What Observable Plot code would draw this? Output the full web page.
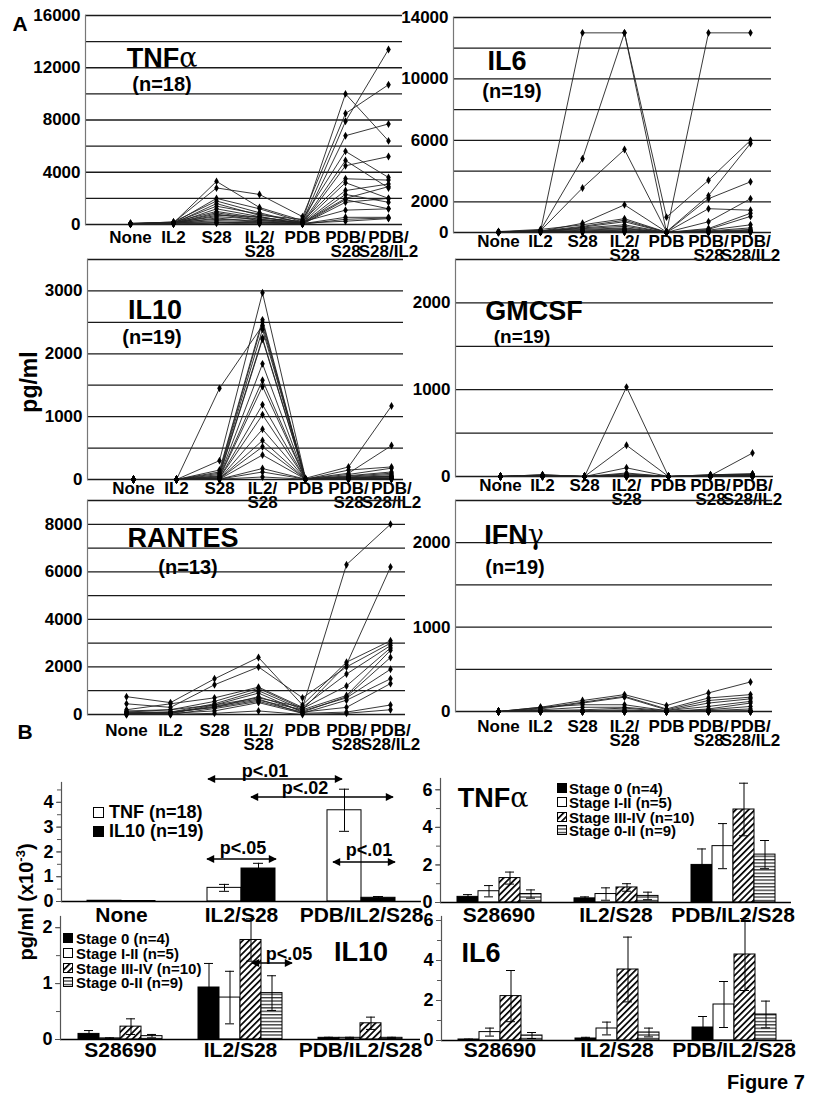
<!DOCTYPE html>
<html><head><meta charset="utf-8">
<script src="https://cdn.jsdelivr.net/npm/d3@7"></script>
<script src="https://cdn.jsdelivr.net/npm/@observablehq/plot@0.6"></script>
<style>
body{margin:0;background:#fff;}
#fig{position:relative;width:829px;height:1093px;overflow:hidden;font-family:"Liberation Sans",Arial,sans-serif;font-weight:bold;color:#000;background:#fff;}
.lbl{position:absolute;white-space:nowrap;line-height:1;transform:translate(-50%,-50%);}
.gr{font-family:"DejaVu Serif",serif;font-weight:normal;}
</style></head><body>
<svg width="0" height="0" style="position:absolute">
<defs>
<pattern id="diag" patternUnits="userSpaceOnUse" width="4.5" height="4.5" patternTransform="rotate(45)"><rect width="4.5" height="4.5" fill="white"/><rect x="0" y="0" width="1.7" height="4.5" fill="black"/></pattern>
<pattern id="hstripe" patternUnits="userSpaceOnUse" width="4" height="3.4"><rect width="4" height="3.4" fill="white"/><rect y="0" width="4" height="1.3" fill="#333"/></pattern>
</defs></svg>
<div id="fig"></div>
<script>
// ---------------- DATA ----------------
const lineCats = ["None","IL2","S28","IL2/\nS28","PDB","PDB/\nS28","PDB/\nS28/IL2"];

const tnfSeries = [
  [60,120,3300,1300,300,10000,6400],
  [40,150,2800,2300,600,8500,10700],
  [80,100,2000,1200,200,7900,13400],
  [50,200,1800,900,100,6800,7700],
  [30,80,1600,700,400,5600,3600],
  [70,130,1400,800,150,4900,2800],
  [20,60,1200,600,50,4500,5200],
  [90,180,1000,500,250,3500,3400],
  [40,90,900,400,100,3200,2000],
  [60,110,800,300,80,2600,3100],
  [30,70,700,600,50,2300,1700],
  [50,140,600,400,120,2000,2900],
  [20,50,500,200,30,1700,2000],
  [80,160,400,300,200,1100,1200],
  [40,100,300,200,60,550,550],
  [60,120,200,100,100,250,450],
  [30,40,150,150,40,1900,1200],
  [10,30,100,50,20,400,500]
];
const il6Series = [
  [50,100,13000,13000,20,13000,13000],
  [30,150,4800,13000,1000,3400,6000],
  [40,120,2900,5400,50,2400,5800],
  [20,80,600,1800,30,2200,3300],
  [60,200,500,900,20,1550,1450],
  [30,100,400,800,10,700,2200],
  [20,60,350,700,10,260,1250],
  [10,50,300,500,5,200,1050],
  [40,90,250,400,10,150,500],
  [20,70,200,300,5,100,300],
  [10,40,150,250,5,80,200],
  [30,60,100,200,10,60,150],
  [20,30,80,150,5,50,100],
  [10,20,60,100,5,40,80],
  [15,50,50,80,5,30,60],
  [25,40,40,60,5,20,50],
  [10,30,30,50,5,15,40],
  [5,20,20,30,5,10,30],
  [5,10,10,20,5,5,20]
];
const il10Series = [
  [0,0,1450,2450,10,30,50],
  [0,0,300,2970,20,200,1170],
  [0,0,150,2540,10,100,540],
  [0,0,120,2500,5,150,200],
  [0,0,100,2390,10,80,180],
  [0,0,80,2250,5,60,120],
  [0,0,60,2230,5,50,100],
  [0,0,50,1840,5,40,80],
  [0,0,40,1580,5,30,60],
  [0,0,30,1480,5,20,50],
  [0,0,20,1190,5,20,40],
  [0,0,20,1030,5,10,30],
  [0,0,10,800,5,10,20],
  [0,0,10,620,5,10,20],
  [0,0,10,520,5,5,10],
  [0,0,5,390,5,5,10],
  [0,0,5,175,5,5,10],
  [0,0,5,120,5,5,5],
  [0,0,5,40,5,5,5]
];
const gmcsfSeries = [
  [0,20,0,1030,0,20,30],
  [0,10,0,360,0,10,270],
  [0,20,0,100,0,20,30],
  [0,10,0,40,0,10,20],
  [0,5,0,30,0,15,25],
  [0,15,0,20,0,5,10],
  [0,5,0,15,0,10,15],
  [0,10,0,10,0,5,10],
  [0,5,0,10,0,5,5],
  [0,5,0,5,0,5,5],
  [0,5,0,5,0,0,5],
  [0,0,0,5,0,0,5],
  [0,0,0,0,0,0,0],
  [0,0,0,0,0,0,0],
  [0,0,0,0,0,0,0],
  [0,0,0,0,0,0,0],
  [0,0,0,0,0,0,0],
  [0,0,0,0,0,0,0],
  [0,0,0,0,0,0,0]
];
const rantesSeries = [
  [100,200,400,700,300,6300,8000],
  [50,100,300,600,200,2100,6200],
  [750,500,1500,2400,400,2200,3100],
  [450,300,1250,2000,700,2000,3000],
  [200,450,700,1150,300,1700,2900],
  [150,200,550,1100,250,1200,2800],
  [100,100,450,1000,200,800,2700],
  [50,50,400,900,100,750,2400],
  [0,100,300,750,150,700,1900],
  [100,50,350,650,50,600,1500],
  [50,0,250,550,100,300,1300],
  [0,50,150,500,50,100,400],
  [0,0,50,150,0,50,200]
];
const ifngSeries = [
  [0,50,130,200,70,220,350],
  [0,40,110,180,30,160,200],
  [0,30,100,170,20,130,170],
  [0,50,80,80,10,100,150],
  [0,20,50,50,10,60,120],
  [0,10,0,0,0,30,100],
  [0,10,20,40,0,20,60],
  [0,5,10,20,0,10,30],
  [0,5,5,10,0,5,10],
  [0,0,0,5,0,5,5],
  [0,0,0,0,0,0,0],
  [0,0,0,0,0,0,0],
  [0,0,0,0,0,0,0],
  [0,0,0,0,0,0,0],
  [0,0,0,0,0,0,0],
  [0,0,0,0,0,0,0],
  [0,0,0,0,0,0,0],
  [0,0,0,0,0,0,0],
  [0,0,0,0,0,0,0]
];

const pairCats = ["None","IL2/S28","PDB/IL2/S28"];
const pairKeys = ["TNF (n=18)","IL10 (n=19)"];
const pairMean = [[0.03,0.02],[0.55,1.33],[3.68,0.15]];
const pairErr  = [[0,0],[0.14,0.21],[0.85,0.05]];

const stageCats = ["S28690","IL2/S28","PDB/IL2/S28"];
const stages = ["Stage 0 (n=4)","Stage I-II (n=5)","Stage III-IV (n=10)","Stage 0-II (n=9)"];
const tnfStageMean = [[0.30,0.60,1.30,0.45],[0.22,0.45,0.80,0.35],[2.00,3.00,4.95,2.55]];
const tnfStageErr  = [[0.12,0.30,0.32,0.22],[0.08,0.33,0.20,0.20],[0.85,1.20,1.40,0.75]];
const il10StageMean = [[0.10,0.02,0.23,0.06],[0.93,0.75,1.78,0.83],[0.03,0.03,0.29,0.03]];
const il10StageErr  = [[0.06,0.01,0.14,0.03],[0.43,0.47,0.38,0.31],[0.01,0.01,0.11,0.01]];
const il6StageMean = [[0.05,0.42,2.22,0.25],[0.10,0.60,3.55,0.40],[0.65,1.80,4.30,1.30]];
const il6StageErr  = [[0.02,0.20,1.28,0.15],[0.06,0.32,1.62,0.22],[0.55,1.15,1.80,0.67]];

// ---------------- DRAWING ----------------
const fig = document.getElementById("fig");
const FONT = '"Liberation Sans", Arial, sans-serif';
const plain = d => String(d);

function place(el, L, T) {
  el.style.position = "absolute";
  el.style.left = L + "px";
  el.style.top = T + "px";
  fig.appendChild(el);
}

function linePanel(c) {
  const L = c.x0 - 70, T = c.y0 - 12, R = c.x1 + 30, B = c.y1 + 45;
  const rows = c.series.flatMap((vals, i) => vals.map((v, j) => ({id: i, cat: lineCats[j], value: v})));
  const p = Plot.plot({
    width: R - L, height: B - T,
    marginLeft: c.x0 - L, marginRight: R - c.x1, marginTop: c.y0 - T, marginBottom: B - c.y1,
    style: {background: "transparent", overflow: "visible", fontFamily: FONT, maxWidth: "none"},
    x: {type: "point", domain: lineCats, range: [c.xFirst - L, c.xLast - L], padding: 0, label: null},
    y: {domain: [0, c.ymax], label: null},
    marks: [
      Plot.ruleY(c.grid, {stroke: "#1a1a1a", strokeWidth: 1.3}),
      Plot.frame({anchor: "left", stroke: "#777", strokeWidth: 1.2}),
      Plot.axisY(c.labels, {tickSize: 0, tickPadding: 5, fontSize: 17, fontWeight: "bold", tickFormat: plain, label: null}),
      Plot.axisX({tickSize: 0, tickPadding: c.pad, fontSize: 17, fontWeight: "bold", lineHeight: 0.84, label: null}),
      Plot.line(rows, {x: "cat", y: "value", z: "id", stroke: "#222", strokeWidth: 0.9}),
      Plot.dot(rows, {x: "cat", y: "value", symbol: "diamond", r: 2.4, fill: "#000"})
    ]
  });
  place(p, L, T);
}

const range = (a, b, s) => d3.range(a, b + s / 2, s);

linePanel({x0: 85, x1: 402, y0: 15, y1: 224, xFirst: 128, xLast: 389, ymax: 16000, pad: 8,
  grid: range(0, 16000, 2000), labels: range(0, 16000, 4000), series: tnfSeries});
linePanel({x0: 453, x1: 771, y0: 17, y1: 232, xFirst: 497, xLast: 751, ymax: 14000, pad: 4,
  grid: range(0, 14000, 2000), labels: [0, 2000, 6000, 10000, 14000], series: il6Series});
linePanel({x0: 87, x1: 403, y0: 259, y1: 479, xFirst: 132, xLast: 391, ymax: 3500, pad: 4,
  grid: range(0, 3500, 500), labels: range(0, 3000, 1000), series: il10Series});
linePanel({x0: 455, x1: 773, y0: 259, y1: 476, xFirst: 498, xLast: 753, ymax: 2500, pad: 4,
  grid: range(0, 2500, 500), labels: [0, 1000, 2000], series: gmcsfSeries});
linePanel({x0: 87, x1: 405, y0: 500, y1: 714, xFirst: 126, xLast: 390, ymax: 9000, pad: 11,
  grid: range(0, 9000, 1000), labels: range(0, 8000, 2000), series: rantesSeries});
linePanel({x0: 455, x1: 772, y0: 500, y1: 711, xFirst: 497, xLast: 750, ymax: 2500, pad: 10,
  grid: range(0, 2500, 500), labels: [0, 1000, 2000], series: ifngSeries});

function barPanel(c) {
  const L = c.x0 - 50, T = c.y0 - 4, R = c.x1 + 20, B = c.y1 + 30;
  const rows = c.cats.flatMap((cat, i) => c.keys.map((k, j) => ({
    cat, key: k, mean: c.means[i][j], err: c.errs[i][j],
    lo: c.means[i][j] - c.errs[i][j], hi: c.means[i][j] + c.errs[i][j]})));
  const marks = [];
  c.keys.forEach((k, j) => marks.push(Plot.barY(rows.filter(d => d.key === k),
    {fx: "cat", x: "key", y: "mean", fill: c.fills[j], stroke: "#000", strokeWidth: 1})));
  const er = rows.filter(d => d.err > 0);
  const ins = c.capInset;
  marks.push(Plot.ruleX(er, {fx: "cat", x: "key", y1: "lo", y2: "hi", stroke: "#000", strokeWidth: 1}));
  marks.push(Plot.tickY(er, {fx: "cat", x: "key", y: "hi", stroke: "#000", insetLeft: ins, insetRight: ins}));
  marks.push(Plot.tickY(er, {fx: "cat", x: "key", y: "lo", stroke: "#000", insetLeft: ins, insetRight: ins}));
  marks.push(Plot.ruleY([0], {stroke: "#000", strokeWidth: 1.5}));
  marks.push(Plot.frame({anchor: "left", facetAnchor: "left", stroke: "#555", strokeWidth: 1.2}));
  marks.push(Plot.axisY(c.minor, {tickSize: 4, tickFormat: () => "", label: null, stroke: "#555"}));
  marks.push(Plot.axisY(c.major, {tickSize: 5, tickPadding: 3, fontSize: 18, fontWeight: "bold", tickFormat: plain, label: null, stroke: "#555"}));
  marks.push(Plot.axisFx({anchor: "bottom", tickSize: 0, tickPadding: c.pad, fontSize: 21, fontWeight: "bold", label: null}));
  const p = Plot.plot({
    width: R - L, height: B - T,
    marginLeft: c.x0 - L, marginRight: R - c.x1, marginTop: c.y0 - T, marginBottom: B - c.y1,
    style: {background: "transparent", overflow: "visible", fontFamily: FONT, maxWidth: "none"},
    fx: {domain: c.cats, padding: 0, label: null},
    x: {domain: c.keys, paddingInner: 0, paddingOuter: c.padOuter, axis: null, label: null},
    y: {domain: [0, c.ymax], label: null},
    marks
  });
  place(p, L, T);
}

const stageFills = ["#000", "#fff", "url(#diag)", "url(#hstripe)"];

barPanel({x0: 60, x1: 421, y0: 782, y1: 901, ymax: 4.8, padOuter: 0.72, capInset: 12, pad: 6,
  cats: pairCats, keys: pairKeys, means: pairMean, errs: pairErr, fills: ["#fff", "#000"],
  major: [0, 1, 2, 3, 4], minor: range(0, 4.5, 0.5)});
barPanel({x0: 440, x1: 791, y0: 778, y1: 902, ymax: 6.6, padOuter: 0.76, capInset: 6, pad: 5,
  cats: stageCats, keys: stages, means: tnfStageMean, errs: tnfStageErr, fills: stageFills,
  major: [0, 2, 4, 6], minor: range(0, 6, 1)});
barPanel({x0: 60, x1: 420, y0: 916, y1: 1039, ymax: 2.2, padOuter: 0.73, capInset: 6, pad: 3,
  cats: stageCats, keys: stages, means: il10StageMean, errs: il10StageErr, fills: stageFills,
  major: [0, 1, 2], minor: range(0, 2, 0.5)});
barPanel({x0: 441, x1: 792, y0: 916, y1: 1040, ymax: 6.2, padOuter: 0.76, capInset: 6, pad: 2,
  cats: stageCats, keys: stages, means: il6StageMean, errs: il6StageErr, fills: stageFills,
  major: [0, 2, 4, 6], minor: range(0, 6, 1)});

// ---------------- ANNOTATIONS ----------------
function text(html, x, y, size, opts = {}) {
  const d = document.createElement("div");
  d.className = "lbl";
  d.innerHTML = html;
  d.style.left = x + "px"; d.style.top = y + "px"; d.style.fontSize = size + "px";
  if (opts.start) d.style.transform = "translate(0,-50%)";
  if (opts.rotate) d.style.transform = "translate(-50%,-50%) rotate(-90deg)";
  fig.appendChild(d);
}
function swatch(fill, x, y, s) {
  const ns = "http://www.w3.org/2000/svg";
  const svg = document.createElementNS(ns, "svg");
  svg.setAttribute("width", s + 2); svg.setAttribute("height", s + 2);
  svg.style.position = "absolute"; svg.style.left = x + "px"; svg.style.top = y + "px";
  const r = document.createElementNS(ns, "rect");
  r.setAttribute("x", 0.5); r.setAttribute("y", 0.5); r.setAttribute("width", s); r.setAttribute("height", s);
  r.setAttribute("fill", fill); r.setAttribute("stroke", "#000"); r.setAttribute("stroke-width", 1);
  svg.appendChild(r);
  fig.appendChild(svg);
}

text("A", 20, 23, 21);
text("B", 25, 731, 21);
text('TNF<span class="gr">α</span>', 162, 58, 27);
text("(n=18)", 162, 84, 20);
text("IL6", 507, 61, 27);
text("(n=19)", 512, 91, 20);
text("IL10", 155, 310, 27);
text("(n=19)", 152, 337, 20);
text("GMCSF", 534, 311, 27);
text("(n=19)", 522, 336, 19);
text("RANTES", 183, 538, 27);
text("(n=13)", 188, 567, 20);
text('IFN<span class="gr">γ</span>', 514, 535, 27);
text("(n=19)", 515, 567, 20);
text("pg/ml", 29, 382, 23, {rotate: true});
text('pg/ml (x10<sup style="font-size:0.65em">-3</sup>)', 25, 902, 20, {rotate: true});

// B1 legend
swatch("#fff", 93, 807, 10); text(pairKeys[0], 109, 812, 18, {start: true});
swatch("#000", 93, 826, 10); text(pairKeys[1], 109, 831, 18, {start: true});
text("p&lt;.01", 265, 771, 18);
text("p&lt;.02", 305, 788, 18);
text("p&lt;.05", 243, 848, 18);
text("p&lt;.01", 369, 850, 18);
text("p&lt;.05", 289, 954, 18);

// stage legends
const legY1 = [788, 802, 817, 830];
const legY2 = [938, 953, 968, 982];
stages.forEach((s, i) => {
  swatch(stageFills[i], 557, legY1[i] - 5, 9); text(s, 569, legY1[i], 15, {start: true});
  swatch(stageFills[i], 63, legY2[i] - 5, 9); text(s, 76, legY2[i], 15, {start: true});
});
text('TNF<span class="gr">α</span>', 493, 798, 27);
text("IL10", 361, 952, 27);
text("IL6", 481, 953, 27);
text("Figure 7", 766, 1082, 20);

// p-value arrows overlay
const ov = document.createElement("div");
ov.innerHTML = `<svg width="829" height="1093" style="position:absolute;left:0;top:0;pointer-events:none">
<defs><marker id="ah" viewBox="0 0 10 10" refX="9" refY="5" markerWidth="9" markerHeight="8" orient="auto-start-reverse" markerUnits="userSpaceOnUse"><path d="M0,0L10,5L0,10z" fill="#000"/></marker></defs>
<g stroke="#000" stroke-width="1.6" marker-start="url(#ah)" marker-end="url(#ah)">
<line x1="208" y1="779" x2="342" y2="779"/>
<line x1="251" y1="797" x2="393" y2="797"/>
<line x1="207" y1="859" x2="276" y2="859"/>
<line x1="333" y1="862" x2="395" y2="862"/>
<line x1="252" y1="963" x2="292" y2="963"/>
</g></svg>`;
fig.appendChild(ov.firstChild);
</script>
</body></html>
